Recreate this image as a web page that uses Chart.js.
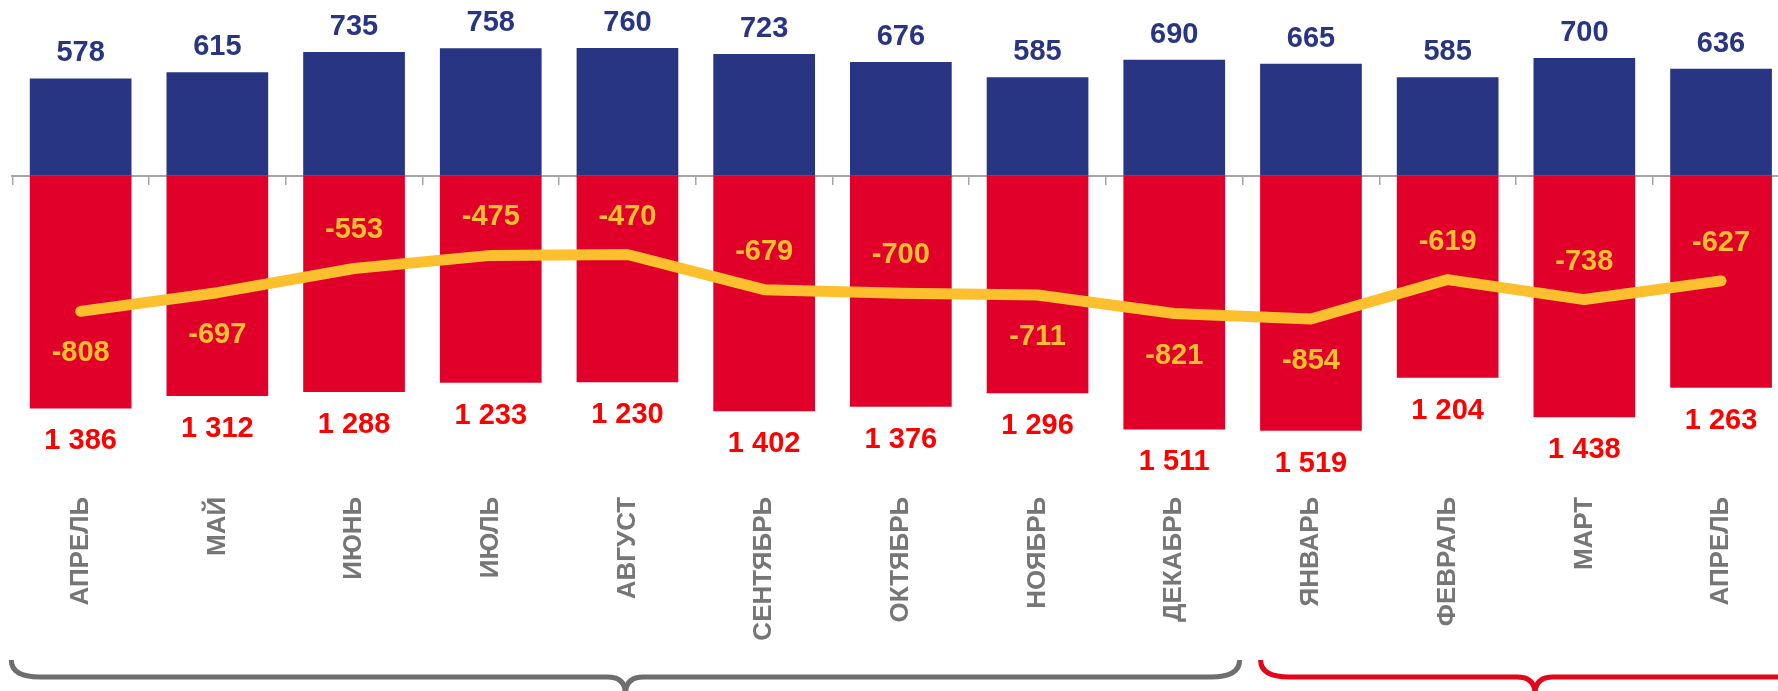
<!DOCTYPE html>
<html lang="ru">
<head>
<meta charset="utf-8">
<title>Баланс по месяцам</title>
<script src="https://cdn.jsdelivr.net/npm/chart.js"></script>
<style>
  html, body { margin: 0; padding: 0; background: #fff; overflow: hidden; }
  #wrap { position: absolute; left: 0; top: 0; width: 1800px; height: 691px; }
</style>
</head>
<body>
<div id="wrap"><canvas id="balanceChart"></canvas></div>
<script>
// chart data
const months = ['АПРЕЛЬ', 'МАЙ', 'ИЮНЬ', 'ИЮЛЬ', 'АВГУСТ', 'СЕНТЯБРЬ', 'ОКТЯБРЬ',
  'НОЯБРЬ', 'ДЕКАБРЬ', 'ЯНВАРЬ', 'ФЕВРАЛЬ', 'МАРТ', 'АПРЕЛЬ'];
const inflow = [578, 615, 735, 758, 760, 723, 676, 585, 690, 665, 585, 700, 636];
const outflow = [1386, 1312, 1288, 1233, 1230, 1402, 1376, 1296, 1511, 1519, 1204, 1438, 1263];
const balance = [-808, -697, -553, -475, -470, -679, -700, -711, -821, -854, -619, -738, -627];

// where the balance label sits relative to the line
const balanceLabelSide = ['below', 'below', 'above', 'above', 'above', 'above', 'above',
  'below', 'below', 'below', 'above', 'above', 'above'];

// brackets under the months: [first index, last index, colour, left inset, right inset]
const brackets = [
  [0, 8, '#6e6e6e', -1, -3],
  [9, 12, '#e2061b', 18, 20]
];

const BLUE = '#283583';
const RED = '#e1002a';
const YELLOW = '#fcc02e';
const FONT = '"Liberation Sans", Arial, sans-serif';

function fmt(v) {
  return Math.abs(v).toString().replace(/\B(?=(\d{3})+(?!\d))/g, ' ');
}

const valueLabels = {
  id: 'valueLabels',
  afterDatasetsDraw(chart) {
    const ctx = chart.ctx;
    ctx.save();
    ctx.font = 'bold 29px ' + FONT;
    ctx.textAlign = 'center';
    ctx.textBaseline = 'alphabetic';
    chart.data.datasets.forEach((ds, i) => {
      const meta = chart.getDatasetMeta(i);
      meta.data.forEach((el, j) => {
        const v = ds.data[j];
        if (ds.type === 'line') {
          ctx.fillStyle = YELLOW;
          const dy = balanceLabelSide[j] === 'above' ? -40 : 40;
          ctx.fillText(String(v), el.x, el.y + dy + 10);
        } else if (v >= 0) {
          ctx.fillStyle = BLUE;
          ctx.fillText(fmt(v), el.x, el.y - 17);
        } else {
          ctx.fillStyle = '#ff0000';
          ctx.fillText(fmt(v), el.x, el.y + 41);
        }
      });
    });
    ctx.restore();
  }
};

const bracketPlugin = {
  id: 'brackets',
  afterDraw(chart) {
    const ctx = chart.ctx;
    const x = chart.scales.x;
    const half = (x.getPixelForTick(1) - x.getPixelForTick(0)) / 2;
    const top = 660, mid = 677, tip = 694, r = 18;
    ctx.save();
    ctx.lineWidth = 5;
    ctx.lineCap = 'butt';
    brackets.forEach(([a, b, color, inL, inR]) => {
      const x0 = x.getPixelForTick(a) - half + inL;
      const x1 = x.getPixelForTick(b) + half + inR;
      const c = (x0 + x1) / 2;
      ctx.strokeStyle = color;
      ctx.beginPath();
      ctx.moveTo(x0, top);
      ctx.quadraticCurveTo(x0, mid, x0 + r * 1.6, mid);
      ctx.lineTo(c - r, mid);
      ctx.quadraticCurveTo(c, mid, c, tip);
      ctx.quadraticCurveTo(c, mid, c + r, mid);
      ctx.lineTo(x1 - r * 1.6, mid);
      ctx.quadraticCurveTo(x1, mid, x1, top);
      ctx.stroke();
    });
    ctx.restore();
  }
};

window.addEventListener('DOMContentLoaded', function () {
  const ctx = document.getElementById('balanceChart').getContext('2d');
  new Chart(ctx, {
    type: 'bar',
    data: {
      labels: months,
      datasets: [
        {
          type: 'line',
          data: balance,
          borderColor: YELLOW,
          borderWidth: 11,
          borderCapStyle: 'round',
          borderJoinStyle: 'round',
          pointRadius: 0,
          tension: 0,
          order: 0
        },
        {
          data: inflow,
          backgroundColor: BLUE,
          grouped: false,
          barPercentage: 0.744,
          categoryPercentage: 1,
          order: 1
        },
        {
          data: outflow.map(v => -v),
          backgroundColor: RED,
          grouped: false,
          barPercentage: 0.744,
          categoryPercentage: 1,
          order: 1
        }
      ]
    },
    options: {
      responsive: true,
      maintainAspectRatio: false,
      animation: false,
      layout: { padding: { left: 12.3, right: 10.6, top: 0, bottom: 0 } },
      plugins: {
        legend: { display: false },
        tooltip: { enabled: false }
      },
      scales: {
        x: {
          offset: true,
          grid: { display: false, drawTicks: false },
          border: { display: false },
          ticks: {
            autoSkip: false,
            minRotation: 90,
            maxRotation: 90,
            padding: 2,
            color: '#767676',
            font: { family: FONT, size: 26, weight: 'bold' }
          },
          afterFit: s => { s.height = 196.2; }
        },
        x2: {
          axis: 'x',
          type: 'category',
          labels: months,
          position: { y: 0 },
          offset: true,
          grid: { offset: true, drawOnChartArea: false, drawTicks: true, tickLength: 8, color: '#a6a6a6', lineWidth: 1.5 },
          border: { display: true, color: '#a6a6a6', width: 2 },
          ticks: { display: false }
        },
        y: {
          display: false,
          min: -1900,
          max: 1045
        }
      }
    },
    plugins: [valueLabels, bracketPlugin]
  });
});
</script>
</body>
</html>
